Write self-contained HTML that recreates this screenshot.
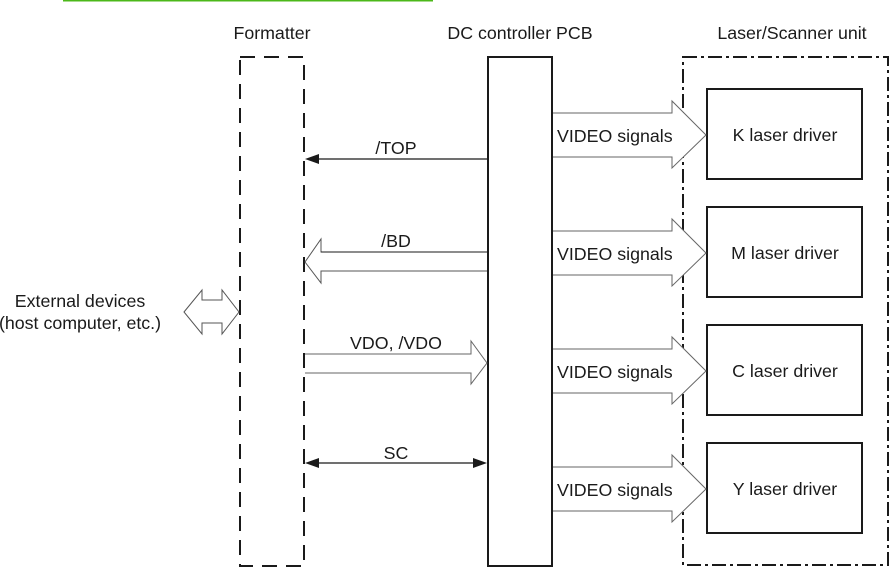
<!DOCTYPE html>
<html><head><meta charset="utf-8"><style>
html,body{margin:0;padding:0;background:#fff;}
svg{display:block;}
text{font-family:"Liberation Sans",Arial,sans-serif;font-size:17.8px;fill:#1a1a1a;}
</style></head><body>
<svg width="890" height="568" viewBox="0 0 890 568" xmlns="http://www.w3.org/2000/svg">
<line x1="63" y1="0.5" x2="433" y2="0.5" stroke="#4cb81a" stroke-width="2"/>
<text x="272" y="39" text-anchor="middle">Formatter</text>
<text x="520" y="39" text-anchor="middle">DC controller PCB</text>
<text x="792" y="39" text-anchor="middle">Laser/Scanner unit</text>
<text x="80" y="307" text-anchor="middle">External devices</text>
<text x="80" y="329" text-anchor="middle">(host computer, etc.)</text>
<rect x="240" y="57" width="64" height="509" fill="none" stroke="#1a1a1a" stroke-width="2" stroke-dasharray="15,9"/>
<rect x="488" y="57" width="64" height="509" fill="none" stroke="#1a1a1a" stroke-width="2"/>
<rect x="683" y="57" width="205" height="508" fill="none" stroke="#1a1a1a" stroke-width="2" stroke-dasharray="14,4,3,4"/>
<g fill="#fff" stroke="#1a1a1a" stroke-width="2">
<rect x="707" y="89" width="155" height="90"/>
<rect x="707" y="207" width="155" height="90"/>
<rect x="707" y="325" width="155" height="90"/>
<rect x="707" y="443" width="155" height="90"/>
</g>
<g text-anchor="middle">
<text x="785" y="141">K laser driver</text>
<text x="785" y="259">M laser driver</text>
<text x="785" y="377">C laser driver</text>
<text x="785" y="495">Y laser driver</text>
</g>
<g fill="#fff" stroke="#666" stroke-width="1">
<path d="M553 113 H672 V101 L706 135 L672 168 V157 H553"/>
<path d="M553 231 H672 V219 L706 253 L672 286 V275 H553"/>
<path d="M553 349 H672 V337 L706 371 L672 404 V393 H553"/>
<path d="M553 467 H672 V455 L706 489 L672 522 V511 H553"/>
</g>
<g>
<text x="557" y="142">VIDEO signals</text>
<text x="557" y="260">VIDEO signals</text>
<text x="557" y="378">VIDEO signals</text>
<text x="557" y="496">VIDEO signals</text>
</g>
<line x1="488" y1="159" x2="315" y2="159" stroke="#1a1a1a" stroke-width="1.3"/>
<path d="M305 159 L319 154 L319 164 Z" fill="#1a1a1a"/>
<text x="396" y="154" text-anchor="middle">/TOP</text>
<path d="M487 252 H321 V239 L305 262 L321 283 V271 H487" fill="#fff" stroke="#555" stroke-width="1"/>
<line x1="487" y1="252" x2="321" y2="252" stroke="#1a1a1a" stroke-width="1"/>
<text x="396" y="247" text-anchor="middle">/BD</text>
<path d="M305 354 H471 V341 L487 363 L471 384 V373 H305" fill="#fff" stroke="#666" stroke-width="1"/>
<text x="396" y="349" text-anchor="middle">VDO, /VDO</text>
<line x1="315" y1="463" x2="477" y2="463" stroke="#1a1a1a" stroke-width="1.3"/>
<path d="M305 463 L319 458 L319 468 Z M487 463 L473 458 L473 468 Z" fill="#1a1a1a"/>
<text x="396" y="459" text-anchor="middle">SC</text>
<path d="M184 312 L202 290 V300 H222 V290 L239 312 L222 334 V323 H202 V334 Z" fill="#fff" stroke="#555" stroke-width="1"/>
</svg>
</body></html>
